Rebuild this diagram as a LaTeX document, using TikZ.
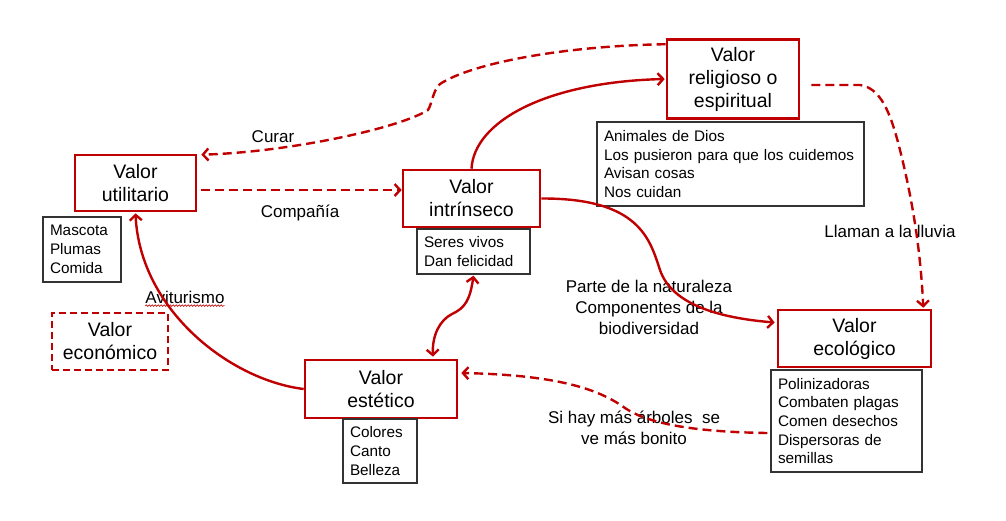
\documentclass[tikz,border=0pt]{standalone}
\usepackage{fontspec}
\setmainfont{Liberation Sans}
\usetikzlibrary{arrows.meta,decorations.pathmorphing}
\definecolor{dred}{RGB}{192,0,0}
\definecolor{dgray}{RGB}{51,51,51}
\begin{document}
\begin{tikzpicture}[x=1pt,y=-1pt,
 valbox/.style={draw=dred, line width=2.6pt, align=center, inner sep=0pt, font=\fontsize{19.5}{23}\selectfont},
 listbox/.style={draw=dgray, line width=1.3pt, align=left, inner xsep=7pt, inner ysep=0pt, font=\fontsize{15.3}{18.7}\selectfont},
 lbl/.style={align=center, inner sep=0pt, font=\fontsize{17}{21}\selectfont},
 conn/.style={draw=dred, line width=2.4pt, -{Straight Barb[length=5.5pt,width=12pt]}},
 dconn/.style={conn, dash pattern=on 9pt off 5pt},
]
\useasboundingbox (0,0) rectangle (1006,520);

% value boxes
\node[valbox, minimum width=121pt, minimum height=56pt] (util) at (135.5,183) {Valor\\utilitario};
\node[valbox, minimum width=116pt, minimum height=57pt, dash pattern=on 7pt off 4pt] (econ) at (110,341.5) {Valor\\económico};
\node[valbox, minimum width=137pt, minimum height=57pt] (intr) at (471.5,198.5) {Valor\\intrínseco};
\node[valbox, minimum width=132pt, minimum height=79pt] (relig) at (733,79) {Valor\\religioso o\\espiritual};
\node[valbox, minimum width=153pt, minimum height=57pt] (ecol) at (854.5,338.5) {Valor\\ecológico};
\node[valbox, minimum width=152pt, minimum height=58pt] (estet) at (381,389) {Valor\\estético};

% list boxes
\node[listbox, text width=64pt, minimum height=65pt] (masc) at (82,249.5) {Mascota\\Plumas\\Comida};
\node[listbox, text width=99pt, minimum height=45pt] (seres) at (473.5,251.5) {Seres vivos\\Dan felicidad};
\node[listbox, text width=253pt, minimum height=84pt] (anim) at (730.5,164) {Animales de Dios\\Los pusieron para que los cuidemos\\Avisan cosas\\Nos cuidan};
\node[listbox, text width=137pt, minimum height=102pt] (polin) at (846.5,421) {Polinizadoras\\Combaten plagas\\Comen desechos\\Dispersoras de\\semillas};
\node[listbox, text width=60pt, minimum height=64pt] (colo) at (380,451) {Colores\\Canto\\Belleza};

% labels
\node[lbl] (curar) at (273,137) {Curar};
\node[lbl] (comp) at (300,213) {Compañía};
\node[lbl] (avi) at (185,297) {Aviturismo};
\node[lbl] (llam) at (890,231) {Llaman a la lluvia};
\node[lbl] (parte) at (649,307.5) {Parte de la naturaleza\\Componentes de la\\biodiversidad};
\node[lbl] (sihay) at (634,427.5) {Si hay más árboles\ \ se\\ve más bonito};
\draw[dred, line width=0.6pt, decorate, decoration={snake, amplitude=0.8pt, segment length=3pt}]
  ([yshift=-2.5pt]avi.base west) -- ([yshift=-2.5pt]avi.base east);

% connectors
\draw[dconn] ([yshift=-6pt]relig.north west) .. controls (560,46) and (470,64) .. (440,84)
  .. controls (433,90) and (432,104) .. (428,110)
  .. controls (400,128) and (290,152) .. ([xshift=4pt,yshift=-1pt]util.north east);
\draw[dconn] ([xshift=4pt,yshift=-7pt]util.east) -- ([yshift=8.5pt]intr.west);
\draw[conn] (intr.north) .. controls (474,122) and (545,82) .. ([xshift=-1pt]relig.west);
\draw[conn] (intr.east) .. controls (640,198) and (650,240) .. (660,270)
  .. controls (672,305) and (720,318) .. ([xshift=-2pt,yshift=16pt]ecol.west);
\draw[dconn] ([xshift=11pt,yshift=-6pt]relig.east) -- (860,85) .. controls (880,88) and (890,110) .. (900,150)
  .. controls (915,210) and (921,260) .. ([xshift=-9pt,yshift=1pt]ecol.north east);
\draw[dconn] ([xshift=-3pt,yshift=-12pt]polin.west) .. controls (700,432) and (650,425) .. (625,408)
  .. controls (600,390) and (560,375) .. ([xshift=3pt,yshift=16pt]estet.east);
\draw[conn, {Straight Barb[length=5.5pt,width=12pt]}-{Straight Barb[length=5.5pt,width=12pt]}]
  ([yshift=-1pt]seres.south) .. controls (470,300) and (465,308) .. (452,314)
  .. controls (440,320) and (432,335) .. ([xshift=52pt,yshift=2pt]estet.north);
\draw[conn] (estet.west) .. controls (230,380) and (140,310) .. ([yshift=-1pt]util.south);
\end{tikzpicture}
\end{document}
